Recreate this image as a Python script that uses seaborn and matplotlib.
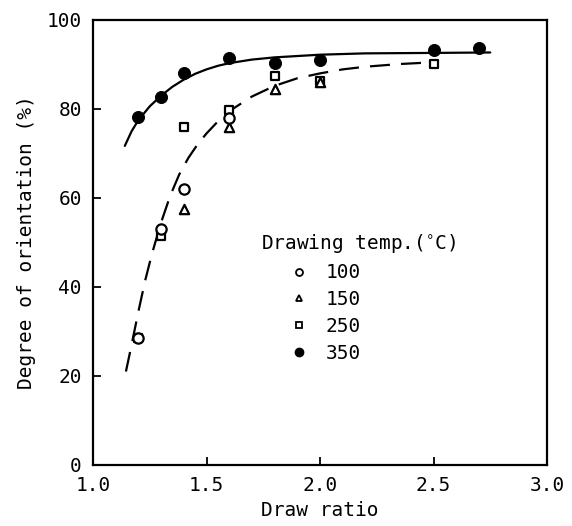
import matplotlib
matplotlib.use("Agg")
import matplotlib.pyplot as plt
from matplotlib.lines import Line2D
import seaborn as sns

# measured points, degree of orientation (%) vs draw ratio
ratio_100 = [1.2, 1.3, 1.4, 1.6]
orient_100 = [28.5, 53.0, 62.0, 78.0]
ratio_150 = [1.4, 1.6, 1.8, 2.0]
orient_150 = [57.6, 76.0, 84.6, 86.0]
ratio_250 = [1.2, 1.3, 1.4, 1.6, 1.8, 2.0, 2.5]
orient_250 = [28.5, 51.5, 76.0, 79.8, 87.4, 86.4, 90.1]
ratio_350 = [1.2, 1.3, 1.4, 1.6, 1.8, 2.0, 2.5, 2.7]
orient_350 = [78.3, 82.8, 88.0, 91.4, 90.3, 91.0, 93.2, 93.8]

# fitted curves
solid_x = [1.14, 1.17, 1.20, 1.25, 1.30, 1.35, 1.40, 1.45, 1.50, 1.55, 1.60,
           1.70, 1.80, 1.90, 2.00, 2.20, 2.50, 2.75]
solid_y = [71.7, 75.0, 77.5, 80.6, 83.0, 85.0, 86.6, 87.9, 88.9, 89.7, 90.3,
           91.1, 91.6, 91.9, 92.2, 92.5, 92.6, 92.7]
dash_x = [1.145, 1.17, 1.20, 1.23, 1.26, 1.30, 1.34, 1.38, 1.42, 1.46, 1.50,
          1.55, 1.60, 1.70, 1.80, 1.90, 2.00, 2.10, 2.20, 2.35, 2.50]
dash_y = [21.0, 27.0, 34.5, 41.5, 47.5, 54.5, 60.5, 65.3, 69.0, 72.0, 74.5,
          77.2, 79.5, 82.8, 85.2, 86.9, 88.0, 88.9, 89.5, 90.1, 90.5]

temps = ["100", "150", "250", "350"]

sns.set_theme(style="ticks")
plt.rcParams["font.family"] = ["DejaVu Sans Mono", "DejaVu Sans"]
plt.rcParams["font.size"] = 14
plt.rcParams["text.color"] = "black"
plt.rcParams["axes.labelcolor"] = "black"

fig = plt.figure(figsize=(5.72, 5.26), dpi=100)
ax = fig.add_axes([0.1626, 0.116, 0.7937, 0.846])

sns.lineplot(x=solid_x, y=solid_y, sort=False, color="black", lw=1.6, ax=ax)
sns.lineplot(x=dash_x, y=dash_y, sort=False, color="black", lw=1.6,
             ax=ax).lines[-1].set_dashes([9, 5])

sns.scatterplot(x=ratio_350, y=orient_350, marker="o", s=75, color="black",
                edgecolor="black", ax=ax, zorder=3)
sns.scatterplot(x=ratio_250, y=orient_250, marker="s", s=40, facecolor="white",
                edgecolor="black", linewidth=1.6, ax=ax, zorder=3)
sns.scatterplot(x=ratio_150, y=orient_150, marker="^", s=45, facecolor="white",
                edgecolor="black", linewidth=1.6, ax=ax, zorder=3)
sns.scatterplot(x=ratio_100, y=orient_100, marker="o", s=55, facecolor="white",
                edgecolor="black", linewidth=1.6, ax=ax, zorder=3)

ax.set_xlim(1.0, 3.0)
ax.set_ylim(0, 100)
ax.set_xticks([1.0, 1.5, 2.0, 2.5, 3.0])
ax.set_xticklabels(["1.0", "1.5", "2.0", "2.5", "3.0"])
ax.set_yticks([0, 20, 40, 60, 80, 100])
ax.tick_params(direction="in", length=6, width=1.3, colors="black",
               labelcolor="black", labelsize=14, pad=8)
for s in ax.spines.values():
    s.set_linewidth(1.6)
    s.set_color("black")
ax.set_xlabel("Draw ratio", fontsize=14, labelpad=4, color="black")
ax.set_ylabel("Degree of orientation (%)", fontsize=14, labelpad=8, color="black")

handles = [
    Line2D([], [], ls="none", marker="o", ms=5, mfc="white", mec="black", mew=1.3),
    Line2D([], [], ls="none", marker="^", ms=5, mfc="white", mec="black", mew=1.3),
    Line2D([], [], ls="none", marker="s", ms=5, mfc="white", mec="black", mew=1.3),
    Line2D([], [], ls="none", marker="o", ms=6, mfc="black", mec="black"),
]
ax.text(0.584, 0.497, "Drawing temp.($^{\\circ}$C)", transform=ax.transAxes,
        ha="center", va="center", fontsize=14, color="black")
ax.legend(handles, temps, loc="upper left", bbox_to_anchor=(0.41, 0.475),
          frameon=False, handlelength=1.0, handletextpad=0.9, labelspacing=0.4,
          borderpad=0, fontsize=14, labelcolor="black")

fig.savefig("out.png", dpi=100)
